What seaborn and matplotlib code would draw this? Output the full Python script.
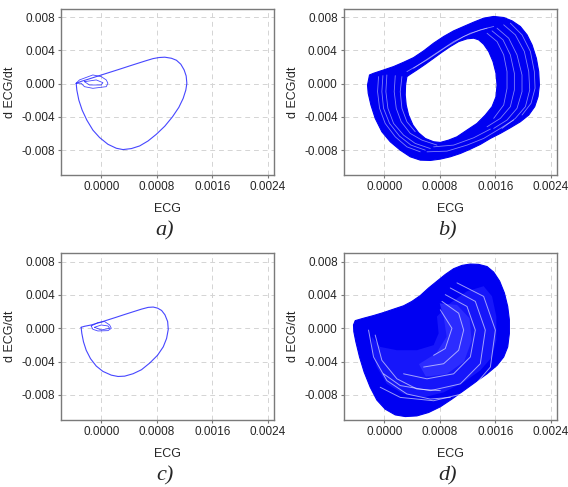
import numpy as np
import matplotlib
matplotlib.use("Agg")
import matplotlib.pyplot as plt
from matplotlib.path import Path
from matplotlib.patches import PathPatch
import seaborn as sns

sns.set_style("ticks")
plt.rcParams["font.family"] = ["Liberation Sans", "DejaVu Sans"]
plt.rcParams["axes.unicode_minus"] = False
plt.rcParams["font.size"] = 8.5

# ECG units: x in 1e-4, y (dECG/dt) in 1e-3
# panel a - single cycle loop + small P/T loops
a_loop_x = [-3.61, -3.52, -3.23, -2.75, -2.07, -1.20, -0.24, 0.96, 2.17, 3.13, 4.34, 5.54,
            6.75, 7.95, 9.16, 10.27, 11.18, 11.81, 12.19, 12.34, 12.24, 11.95, 11.47, 10.84,
            10.12, 9.16, 8.34, 7.47, 6.51, 5.30, 4.10, 2.89, 1.69, 0.48, -0.72, -1.93, -2.89, -3.61]
a_loop_y = [0.04, -0.77, -1.98, -3.19, -4.40, -5.60, -6.49, -7.30, -7.78, -7.94, -7.82, -7.50,
            -6.90, -6.09, -5.12, -3.99, -2.86, -1.77, -0.77, 0.04, 0.93, 1.65, 2.34, 2.82,
            3.06, 3.19, 3.15, 3.02, 2.78, 2.46, 2.14, 1.81, 1.49, 1.17, 0.85, 0.52, 0.28, 0.04]
a_small_x = [-3.62, -3.14, -1.21, 0.0, 0.72, 0.96, 0.72, -1.21, -2.42, -2.9, -3.62]
a_small_y = [0.05, 0.45, 1.05, 0.85, 0.45, 0.05, -0.36, -0.56, -0.36, 0.05, 0.05]
a_inner_x = [-2.42, -0.72, 0.24, 0.0, -1.69, -2.42]
a_inner_y = [0.24, 0.45, 0.12, -0.16, -0.16, 0.24]

# panel c
c_loop_x = [-2.90, -2.80, -2.56, -2.17, -1.55, -0.72, 0.24, 1.45, 2.42, 3.38, 4.59, 5.80,
            7.00, 8.12, 8.94, 9.42, 9.66, 9.57, 9.18, 8.70, 8.12, 7.49, 6.76, 5.80, 4.59,
            3.38, 2.17, 0.97, -0.24, -1.45, -2.42, -2.90]
c_loop_y = [0.12, -0.61, -1.62, -2.63, -3.64, -4.53, -5.17, -5.62, -5.78, -5.74, -5.45, -4.97,
            -4.16, -3.23, -2.22, -1.21, -0.12, 0.81, 1.62, 2.14, 2.42, 2.55, 2.51, 2.30, 1.98,
            1.66, 1.33, 1.01, 0.69, 0.40, 0.24, 0.12]
c_small_x = [-1.45, -0.48, 0.48, 1.21, 1.45, 0.97, -0.48, -1.21, -1.45]
c_small_y = [0.28, 0.69, 0.81, 0.4, 0.0, -0.28, -0.32, -0.12, 0.28]
c_inner_x = [-0.97, 0.0, 0.97, 1.21, 0.0, -0.97]
c_inner_y = [0.12, 0.4, 0.28, 0.0, -0.2, 0.12]

# panel b - dense band of cycles: outer / inner envelope + visible gaps between cycles
b_outer_x = [-2.41, -2.12, -1.54, -0.10, 1.35, 2.79, 4.23, 5.68, 7.12, 8.56, 10.00, 11.45,
             12.89, 14.33, 15.78, 17.22, 18.42, 19.62, 20.59, 21.31, 21.93, 22.27, 22.37,
             22.17, 21.69, 20.83, 19.62, 18.18, 16.74, 15.30, 13.85, 12.41, 10.97, 9.52,
             8.08, 6.64, 5.19, 3.75, 2.31, 0.87, -0.34, -1.30, -1.92, -2.31]
b_outer_y = [-0.16, 1.05, 1.25, 1.65, 2.06, 2.58, 3.14, 3.95, 4.88, 5.68, 6.36, 6.89,
             7.41, 7.89, 8.10, 7.97, 7.57, 6.89, 5.88, 4.67, 3.06, 1.45, -0.16,
             -1.57, -2.77, -3.78, -4.59, -5.31, -5.99, -6.60, -7.32, -7.89, -8.41, -8.81,
             -9.09, -9.25, -9.21, -8.81, -8.01, -7.00, -5.79, -4.18, -2.57, -1.16]
b_inner_x = [3.27, 3.08, 3.03, 3.17, 3.51, 4.14, 4.95, 5.92, 7.12, 8.08, 9.28, 10.49, 11.93,
             13.37, 14.57, 15.54, 16.11, 16.26, 16.11, 15.68, 15.06, 14.33, 13.61, 12.89,
             11.93, 10.73, 9.52, 8.32, 7.12, 5.92, 4.71, 3.75]
b_inner_y = [0.85, -0.16, -1.36, -2.57, -3.78, -4.99, -5.91, -6.60, -7.00, -7.08, -6.80, -6.40,
             -5.59, -4.79, -3.78, -2.77, -1.57, -0.16, 1.25, 2.66, 3.87, 4.75, 5.28, 5.48,
             5.40, 5.07, 4.47, 3.79, 3.06, 2.34, 1.65, 1.13]
b_gaps = [
    ([-0.82, -0.96, -0.67, 0.14, 1.59, 3.27, 5.19], [0.85, -0.96, -2.97, -4.79, -6.40, -7.61, -8.21]),
    ([-0.19, -0.34, -0.10, 0.77, 2.21, 3.85, 5.92], [0.97, -0.96, -2.97, -4.79, -6.32, -7.40, -8.01]),
    ([0.38, 0.24, 0.53, 1.35, 2.79, 4.47, 6.64], [1.05, -0.96, -2.97, -4.79, -6.20, -7.20, -7.81]),
    ([1.59, 1.44, 1.73, 2.45, 3.75, 5.43, 7.60], [0.97, -0.96, -2.97, -4.59, -5.99, -6.80, -7.40]),
    ([2.55, 2.31, 2.55, 3.27, 4.47], [0.85, -0.96, -2.97, -4.59, -5.79]),
    ([14.82, 16.26, 17.22, 17.70, 17.70, 17.22, 15.78], [6.08, 5.07, 3.47, 1.45, -0.56, -2.57, -4.18]),
    ([15.54, 17.12, 18.18, 18.76, 18.76, 18.18, 16.74, 14.82], [6.36, 5.28, 3.47, 1.25, -0.76, -2.77, -4.18, -5.19]),
    ([16.26, 17.94, 19.14, 19.86, 19.86, 19.14, 17.70, 15.78], [6.69, 5.48, 3.47, 1.05, -0.96, -2.97, -4.38, -5.39]),
    ([17.22, 18.90, 20.20, 20.83, 20.97, 20.35, 18.90, 16.98], [7.09, 5.88, 3.87, 1.45, -0.76, -2.77, -4.18, -5.39]),
    ([18.18, 19.86, 21.07, 21.64, 21.74, 21.16, 19.86], [7.29, 5.88, 3.87, 1.45, -0.56, -2.37, -3.78]),
    ([3.27, 6.16, 9.04, 11.45, 13.85, 15.78], [1.45, 2.86, 4.47, 5.68, 6.49, 6.89]),
    ([4.23, 7.12, 10.00, 12.41, 14.82], [1.86, 3.47, 5.07, 6.08, 6.69]),
    ([6.16, 9.04, 11.93, 14.33, 16.74, 18.66], [-8.21, -8.13, -7.40, -6.60, -5.39, -4.38]),
    ([7.12, 10.00, 12.89, 15.30], [-7.61, -7.40, -6.52, -5.47]),
]

# panel d
d_outer_x = [-4.43, -4.18, -2.98, -1.54, -0.10, 1.35, 2.79, 3.99, 5.19, 6.40, 7.60, 8.80,
             10.00, 11.21, 12.41, 13.61, 14.82, 15.78, 16.64, 17.32, 17.80, 18.04, 18.04,
             17.80, 17.22, 16.26, 14.82, 13.13, 11.45, 9.76, 8.08, 6.40, 4.71, 3.03, 1.59,
             0.14, -1.06, -2.02, -2.89, -3.56, -4.09, -4.38]
d_outer_y = [0.40, 0.92, 1.21, 1.53, 1.89, 2.30, 2.70, 3.23, 3.92, 4.84, 5.65, 6.46,
             7.15, 7.55, 7.71, 7.67, 7.41, 6.74, 5.65, 4.24, 2.62, 1.01, -0.61,
             -2.23, -3.44, -4.45, -5.46, -6.47, -7.48, -8.49, -9.42, -10.10, -10.51, -10.59, -10.39,
             -9.70, -8.61, -7.07, -5.26, -3.44, -1.62, -0.41]
d_light_x = [7.60, 9.52, 11.93, 14.33, 15.54, 16.16, 16.16, 15.54, 13.85, 11.45, 8.56, 5.68,
             2.79, 0.38, -1.06, -1.78, -1.78, -0.58, 1.83, 4.71, 7.12, 7.84]
d_light_y = [1.41, 3.03, 4.44, 5.05, 3.83, 1.41, -1.42, -3.44, -5.05, -6.47, -7.68, -8.29,
             -7.88, -6.67, -4.65, -2.63, -1.01, -2.23, -2.63, -2.63, -2.02, -0.61]
d_bright_x = [8.0, 10.5, 12.3, 12.6, 11.5, 9.0, 6.0, 5.0, 7.5, 9.0, 8.6]
d_bright_y = [3.0, 2.8, 1.2, -1.5, -4.0, -5.5, -5.8, -4.3, -3.0, -1.0, 1.2]
d_gaps = [
    ([8.08, 9.76, 8.80, 7.12], [2.22, 0.00, -2.43, -3.24]),
    ([8.32, 10.73, 11.45, 10.73, 8.56, 5.68], [3.23, 1.81, -0.21, -2.63, -4.25, -4.65]),
    ([8.80, 11.93, 13.13, 12.41, 10.00, 6.16, 2.79], [4.04, 2.62, -0.21, -3.44, -5.46, -6.06, -5.46]),
    ([9.52, 13.13, 14.57, 13.85, 10.97, 6.64, 2.31, -0.10], [4.84, 3.23, -0.21, -4.25, -6.67, -7.48, -6.87, -5.46]),
    ([10.49, 14.33, 16.02, 15.30, 12.17, 7.12, 2.31, -0.58], [5.45, 3.83, -0.21, -4.65, -7.68, -8.69, -8.29, -7.07]),
    ([-2.26, -1.54, 0.38, 3.27, 6.64, 9.52], [-0.21, -3.44, -6.27, -7.88, -8.49, -8.29]),
    ([-1.30, -0.34, 1.83, 4.71, 8.08], [-0.81, -3.84, -6.06, -7.28, -7.48]),
]

x_ticks = [0.0, 0.0008, 0.0016, 0.0024]
y_ticks = [-0.008, -0.004, 0.0, 0.004, 0.008]
panel_names = ["a)", "b)", "c)", "d)"]

XS, YS = 1e-4, 1e-3
BLUE = "#0000f2"


def draw_loop(ax, xs, ys, lw=0.8):
    sns.lineplot(x=np.array(xs) * XS, y=np.array(ys) * YS, sort=False, estimator=None,
                 color="#2626ff", lw=lw, alpha=0.85, ax=ax)


def closed(xs, ys):
    return Path(np.column_stack([np.r_[xs, xs[0]] * XS, np.r_[ys, ys[0]] * YS]), closed=True)


def band(ax, outer, inner=None, color=BLUE, lw=0.8):
    paths = [closed(*outer)]
    if inner is not None:
        paths.append(closed(*inner))
    p = Path.make_compound_path(*paths)
    ax.add_patch(PathPatch(p, facecolor=color, edgecolor=color, lw=lw, zorder=2))


def gaps(ax, lines, color="white", alpha=0.5, lw=0.6):
    for gx, gy in lines:
        sns.lineplot(x=np.array(gx) * XS, y=np.array(gy) * YS, sort=False, estimator=None,
                     color=color, lw=lw, alpha=alpha, ax=ax, zorder=3)


fig = plt.figure(figsize=(5.68, 4.87), dpi=100)
pos = [[0.1074, 0.6407, 0.375, 0.3409], [0.6056, 0.6407, 0.375, 0.3409],
       [0.1074, 0.1376, 0.375, 0.3423], [0.6056, 0.1376, 0.375, 0.3423]]
axes = [fig.add_axes(p) for p in pos]

draw_loop(axes[0], a_loop_x, a_loop_y)
draw_loop(axes[0], a_small_x, a_small_y, lw=0.6)
draw_loop(axes[0], a_inner_x, a_inner_y, lw=0.6)

band(axes[1], (b_outer_x, b_outer_y), (b_inner_x, b_inner_y))
gaps(axes[1], b_gaps)

draw_loop(axes[2], c_loop_x, c_loop_y)
draw_loop(axes[2], c_small_x, c_small_y, lw=0.6)
draw_loop(axes[2], c_inner_x, c_inner_y, lw=0.6)

band(axes[3], (d_outer_x, d_outer_y))
band(axes[3], (d_light_x, d_light_y), color="#1616fa", lw=0)
band(axes[3], (d_bright_x, d_bright_y), color="#2c2cff", lw=0)
gaps(axes[3], d_gaps, alpha=0.6, lw=0.7)

for ax, name in zip(axes, panel_names):
    ax.set_xlim(-0.00058, 0.00249)
    ax.set_ylim(-0.011, 0.009)
    ax.set_xticks(x_ticks)
    ax.set_xticklabels(["%.4f" % v for v in x_ticks])
    ax.set_yticks(y_ticks)
    ax.set_yticklabels(["%.3f" % v for v in y_ticks])
    ax.grid(True, color="#d4d4d4", ls=(0, (5, 4)), lw=0.7)
    ax.set_axisbelow(True)
    for s in ax.spines.values():
        s.set_color("#7a7a7a")
        s.set_linewidth(1.0)
    ax.tick_params(length=2.5, width=0.8, color="#7a7a7a", pad=2, labelsize=8.5)
    ax.set_xlabel("ECG", fontsize=9, labelpad=7)
    ax.set_ylabel("d ECG/dt", fontsize=9, labelpad=4)
    bb = ax.get_position()
    fig.text(bb.x0 + bb.width / 2 - 0.005, bb.y0 - 0.115, name, ha="center", va="center",
             family="Liberation Serif", style="italic", fontsize=16)

fig.savefig("out.png", dpi=100, facecolor="white")
